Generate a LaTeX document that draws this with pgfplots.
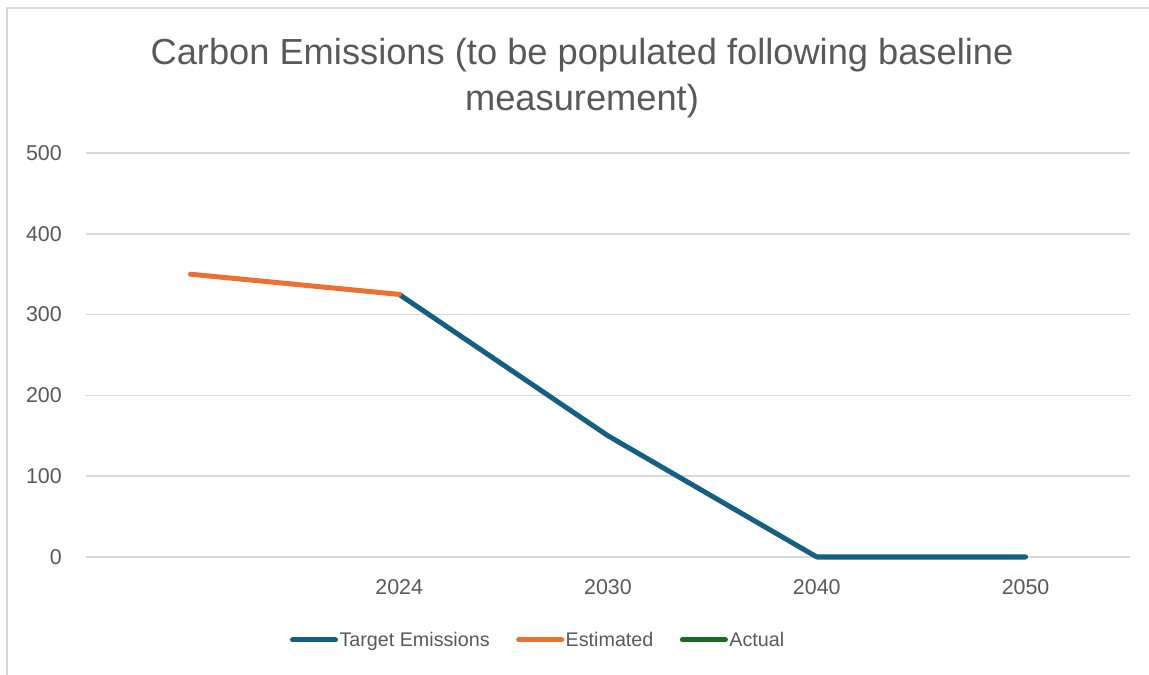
\documentclass[border=0pt]{standalone}
\usepackage{pgfplots}
\pgfplotsset{compat=1.18}
\usepackage{fontspec}
\setmainfont{Liberation Sans}
\definecolor{tgt}{HTML}{156082}
\definecolor{est}{HTML}{E97132}
\definecolor{act}{HTML}{196B24}
\definecolor{txt}{HTML}{595959}
\definecolor{grd}{HTML}{D9D9D9}
\begin{document}
\begin{tikzpicture}
\path[use as bounding box] (0bp,0bp) rectangle (1149bp,675bp);
\draw[grd, line width=1.5bp] (7bp,0bp) -- (7bp,667bp) -- (1149bp,667bp);
\begin{axis}[
  at={(86bp,118bp)}, anchor=south west,
  scale only axis, width=1044bp, height=404bp,
  xmin=-0.5, xmax=4.5, ymin=0, ymax=500,
  xtick={0,1,2,3,4}, xticklabels={{},2024,2030,2040,2050},
  ytick={0,100,200,300,400,500},
  /pgf/number format/assume math mode=true,
  major tick length=0pt,
  axis line style={draw=none},
  ymajorgrids, grid style={grd, line width=1.5bp},
  ticklabel style={font=\fontsize{21.5}{25}\selectfont, text=txt},
  yticklabel style={inner sep=0pt, anchor=east, xshift=-24bp},
  xticklabel style={inner sep=0pt, anchor=north, yshift=-22bp},
  clip=false,
  legend columns=3,
  legend style={draw=none, fill=none, at={(0.1954,-0.2054)}, anchor=west,
    inner sep=0pt, outer sep=0pt,
    font=\fontsize{19.8}{23}\selectfont, text=txt,
    nodes={inner sep=1.5bp},
    /tikz/every even column/.append style={column sep=25bp}},
  legend cell align=left,
  legend image code/.code={\draw[#1, line cap=round] (0bp,0bp) -- (43bp,0bp);},
]
\addplot[tgt, line width=5bp, line cap=round, line join=round] coordinates {(1,325) (2,150) (3,0) (4,0)};
\addlegendentry{Target Emissions}
\addplot[est, line width=5bp, line cap=round, line join=round] coordinates {(0,350) (1,325)};
\addlegendentry{Estimated}
\addlegendimage{act, line width=5bp}
\addlegendentry{Actual}
\end{axis}
\node[text=txt, font=\fontsize{36.4}{46}\selectfont, align=center] at (582bp,597bp) {Carbon Emissions (to be populated following baseline\\measurement)};
\end{tikzpicture}
\end{document}
